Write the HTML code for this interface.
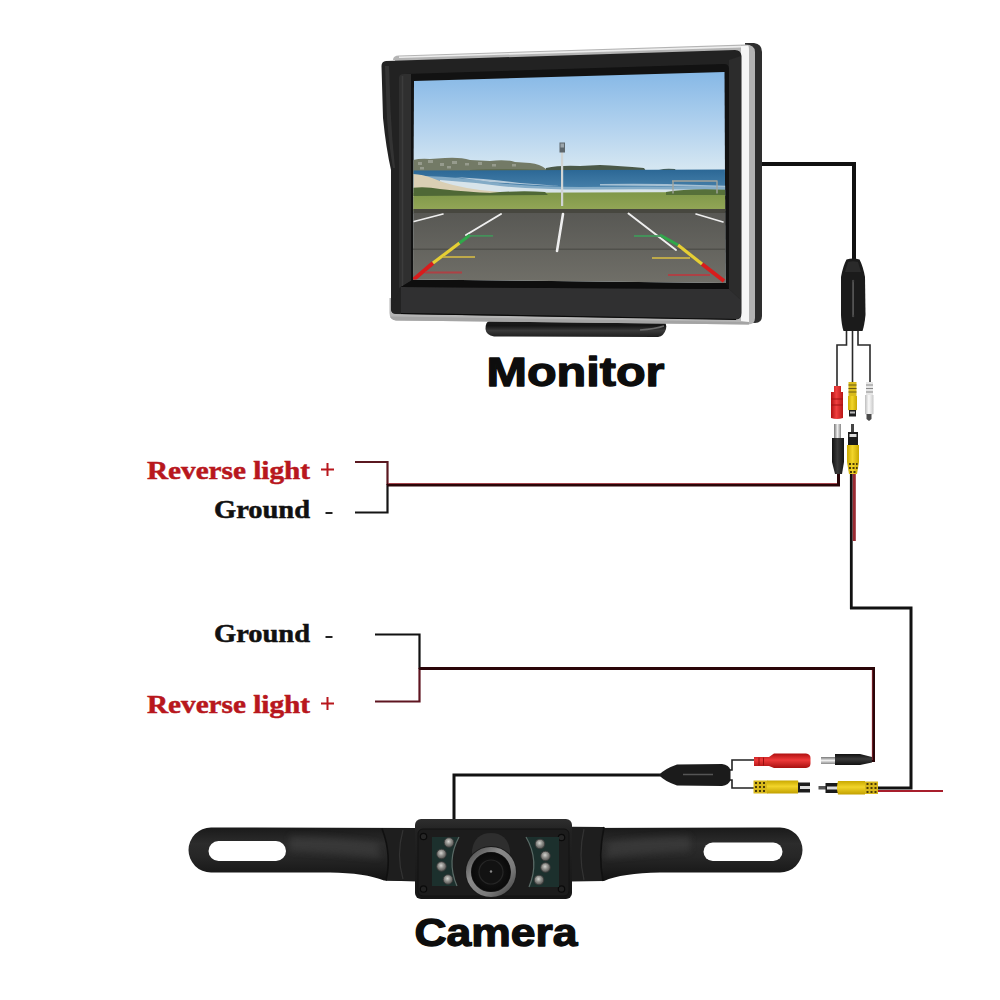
<!DOCTYPE html>
<html><head><meta charset="utf-8"><style>
html,body{margin:0;padding:0;background:#fff;width:1000px;height:1000px;overflow:hidden}
svg{display:block}
</style></head><body>
<svg width="1000" height="1000" viewBox="0 0 1000 1000">
<rect width="1000" height="1000" fill="#fff"/>


<!-- ============ MONITOR ============ -->
<defs>
  <linearGradient id="sky" gradientUnits="userSpaceOnUse" x1="0" y1="72" x2="0" y2="172">
    <stop offset="0" stop-color="#86b8e6"/>
    <stop offset="0.55" stop-color="#b2d2ee"/>
    <stop offset="1" stop-color="#d8e8f2"/>
  </linearGradient>
  <linearGradient id="sea" gradientUnits="userSpaceOnUse" x1="0" y1="170" x2="0" y2="195">
    <stop offset="0" stop-color="#2c6896"/>
    <stop offset="1" stop-color="#4f88b0"/>
  </linearGradient>
  <linearGradient id="asph" gradientUnits="userSpaceOnUse" x1="0" y1="213" x2="0" y2="283">
    <stop offset="0" stop-color="#585854"/>
    <stop offset="1" stop-color="#706f68"/>
  </linearGradient>
  <linearGradient id="grass" gradientUnits="userSpaceOnUse" x1="0" y1="193" x2="0" y2="210">
    <stop offset="0" stop-color="#80984a"/>
    <stop offset="1" stop-color="#92a656"/>
  </linearGradient>
  <linearGradient id="stand" x1="0" y1="0" x2="0" y2="1">
    <stop offset="0" stop-color="#1a1a1a"/>
    <stop offset="0.3" stop-color="#161616"/>
    <stop offset="0.6" stop-color="#3a3a3a"/>
    <stop offset="1" stop-color="#1e1e1e"/>
  </linearGradient>
  <clipPath id="scr"><path d="M414 81 L724.5 72 L725.5 283 L413 279.5 Z"/></clipPath>
</defs>
<g id="monitor">
  <!-- stand -->
  <path d="M489 321 L664 321 Q667 323 666 329 Q664 336 658 337 L494 336.5 Q486 335 485.5 329 Q485.5 322 489 321 Z" fill="url(#stand)"/>
  <path d="M640 330 Q655 329 664 326" stroke="#6a6a6a" stroke-width="1.5" fill="none"/>
  <!-- back housing (right & bottom) -->
  <path d="M745 43 L754 43 Q762 44 762 52 L762 316 Q762 323 755 323 L745 322 Z" fill="#2e2e2e"/>
  <!-- silver trim -->
  <path d="M393 60 Q393 55.5 399 55.5 L744 44.5 Q755 44 755 52 L755 318 Q755 324.5 748 324.5 L396 320.5 Q389.5 320 389.5 313 L389.5 298 L395 298 L395 60 Z" fill="#b4b4b4"/>
  <path d="M741 46 L748 45.5 Q749 46 749 50 L749 322 L741 321 Z" fill="#f6f6f6"/>
  <path d="M392 316.5 L745 322 L749 322 L749 324.5 L396 320.5 Q391 319.5 390 316.5 Z" fill="#a4a4a4"/>
  <path d="M399 56.5 L741 45.8 L741 47.5 L399 58 Z" fill="#ededed"/>
  <!-- front bezel -->
  <path d="M386 61 Q381.5 61.5 381.5 66 L383 118 Q386 148 391 170 L391 309 Q391 314 396 314 L736 319.5 Q741.5 319.5 741.5 313 L741.5 56 Q741 50 735 50 Z" fill="#222"/>
  <!-- visor highlight at left -->
  <path d="M385 66 L387 118 Q389 146 393 168 L395 168 Q392 140 390.5 110 L389 66 Z" fill="#383838" opacity="0.8"/>
  <!-- inner recess -->
  <path d="M401 78 Q401 74 406 74 L724 64 Q729 64 729 69 L729 289 L401 287 Z" fill="#121212"/>
  <path d="M401 287 L729 289 L741 300 L741 313 Q741 319 736 319 L401 313 Z" fill="#303031"/>
  <path d="M391 309 L401 287 L401 313 L396 313.5 Q391 313 391 309 Z" fill="#222"/>
  <path d="M399 78 Q399 74 404 74 L411 74 L411 284 L413 280 L399 288 Z" fill="#2f2f2f"/>
  <path d="M402.5 76 V286" stroke="#3c3c3c" stroke-width="1.5"/>
  <path d="M729 60 L741 56 L741 300 L729 289 Z" fill="#2c2c2c"/>
  <path d="M401 287 L413 279.5 L725.5 283 L729 289 Z" fill="#0e0e0e"/>
  <path d="M401 313.5 L736 319.5" stroke="#0a0a0a" stroke-width="1.2"/>
  <!-- screen -->
  <g clip-path="url(#scr)">
    <rect x="410" y="65" width="320" height="225" fill="url(#sky)"/>
    <!-- headland with houses -->
    <path d="M410 161 Q418 158 430 159 L445 158 Q460 157 470 160 L490 161 Q505 159 515 162 L530 163 Q540 164 546 169 L548 175 L410 176 Z" fill="#737a66"/>
    <g fill="#b9bcb4" opacity="0.5">
      <rect x="418" y="162" width="4" height="3"/><rect x="428" y="160" width="5" height="3"/>
      <rect x="440" y="163" width="4" height="3"/><rect x="452" y="161" width="5" height="3"/>
      <rect x="465" y="163" width="4" height="2.5"/><rect x="478" y="162" width="4" height="3"/>
      <rect x="420" y="167" width="4" height="2.5"/><rect x="447" y="166" width="4" height="2.5"/>
      <rect x="492" y="164" width="4" height="2.5"/><rect x="512" y="164" width="4" height="2.5"/>
    </g>
    <path d="M470 170 Q500 168 546 170 L546 175 L470 175 Z" fill="#5f6a4e"/>
    <!-- far trees -->
    <path d="M546 168 Q560 165 580 166 L600 165 Q620 166 644 168 L646 171 L546 171 Z" fill="#4a5848"/>
    <path d="M659 170 Q665 168 675 169 L676 171 L659 171 Z" fill="#4a5848"/>
    <!-- sea -->
    <path d="M410 170.5 L730 169.5 L730 196 L410 196 Z" fill="url(#sea)"/>
    <!-- surf -->
    <path d="M425 176 Q460 177 490 182 Q530 187 580 187 Q640 186 730 187 L730 196 L425 196 Z" fill="#8fb4cc" opacity="0.85"/>
    <path d="M440 180 Q470 182 500 186 Q540 190 600 189.5 Q660 189 730 190 L730 196 L440 196 Z" fill="#dfe8ed" opacity="0.92"/>
    <path d="M455 177 Q490 179 520 183 L560 186 Q520 184 490 182 Z" fill="#e8eef2" opacity="0.7"/>
    <path d="M600 184 Q650 183 700 185 L730 186 L730 187 Q660 186 600 185.5 Z" fill="#e8eef2" opacity="0.6"/>
    <!-- sand -->
    <path d="M410 174 Q422 174 432 178 Q450 186 480 190 L520 194 L410 197 Z" fill="#dacfb4"/>
    <!-- grass -->
    <path d="M410 193 L730 192 L730 211 L410 211 Z" fill="url(#grass)"/>
    <!-- bushes -->
    <path d="M410 188 Q425 186 440 189 Q470 192 490 193 Q520 190 545 192 L548 195 L410 196 Z" fill="#4f6836"/>
    <path d="M666 192 Q690 188 730 190 L730 195 L666 195 Z" fill="#56703a"/>
    <!-- fence -->
    <path d="M672 181 L717.5 181 M673 181 V193.5 M717 181 V193.5" stroke="#a2a49c" stroke-width="1.4" fill="none"/>
    <!-- pole -->
    <rect x="561" y="148" width="2.2" height="58" fill="#d0d4d4"/>
    <rect x="559.5" y="142.5" width="5.5" height="10" fill="#5c666c"/>
    <rect x="560.5" y="143.5" width="3.5" height="4" fill="#9aa4aa"/>
    <!-- curb -->
    <rect x="410" y="209" width="320" height="4.5" fill="#47473f"/>
    <!-- asphalt -->
    <rect x="410" y="213" width="320" height="80" fill="url(#asph)"/>
    <rect x="410" y="248.5" width="320" height="1.5" fill="#4b4b46" opacity="0.8"/>
    <!-- parking lines -->
    <g stroke="#eeeeee" fill="none" stroke-linecap="round">
      <path d="M414 221.5 L443 214" stroke-width="1.6"/>
      <path d="M501 214 L466 235" stroke-width="2"/>
      <path d="M563 214 Q560 232 557 251" stroke-width="2.6"/>
      <path d="M628.5 213.5 L676 250" stroke-width="2"/>
      <path d="M696 214 L723 222" stroke-width="1.6"/>
    </g>
    <!-- guide lines -->
    <g fill="none" stroke-linecap="butt">
      <path d="M413 280 L433 263" stroke="#d81c1c" stroke-width="4"/>
      <path d="M433 263 L459.5 243" stroke="#e6cf34" stroke-width="3.2"/>
      <path d="M459.5 243 L470 235" stroke="#2fa84a" stroke-width="3"/>
      <path d="M469 235.8 H493" stroke="#3f9a5a" stroke-width="1.8" opacity="0.85"/>
      <path d="M443 257 H475" stroke="#c8b048" stroke-width="1.8" opacity="0.9"/>
      <path d="M425 272.5 H462" stroke="#b83a40" stroke-width="2.2" opacity="0.85"/>
      <path d="M724 281 L702 264" stroke="#d81c1c" stroke-width="4"/>
      <path d="M702 264 L678 245" stroke="#e6cf34" stroke-width="3.2"/>
      <path d="M678 245 L660 235" stroke="#2fa84a" stroke-width="3"/>
      <path d="M634 236 H662" stroke="#3f9a5a" stroke-width="1.8" opacity="0.85"/>
      <path d="M652 258 H690" stroke="#c8b048" stroke-width="1.8" opacity="0.9"/>
      <path d="M668 275 H710" stroke="#b83a40" stroke-width="2.2" opacity="0.85"/>
    </g>
  </g>
</g>

<!-- ============ WIRES ============ -->
<g fill="none" stroke-linejoin="miter" stroke-linecap="butt">
  <!-- monitor cable -->
  <path d="M762 164 H854 V262" stroke="#111" stroke-width="4"/>
  <!-- top bracket -->
  <path d="M387.5 484 V512.5 H355" stroke="#151515" stroke-width="2.2"/>
  <path d="M355 462 H387.5 V485" stroke="#5a1820" stroke-width="2.2"/>
  <!-- top middle line -->
  <path d="M387 485 H838.5 V472" stroke="#2a0508" stroke-width="3"/>
  <path d="M388 483.5 H837" stroke="#a8343e" stroke-width="1" opacity="0.8"/>
  <!-- yellow male wire: black+red -->
  <path d="M851.3 472 V609" stroke="#111" stroke-width="2.8"/>
  <path d="M854.3 472 V541" stroke="#9a2a32" stroke-width="3"/>
  <path d="M850 608 H911 V788 H876" stroke="#111" stroke-width="3"/>
  <!-- lower bracket -->
  <path d="M375 634.5 H419.5 V669" stroke="#111" stroke-width="2.2"/>
  <path d="M419.5 668 V701.5 H375" stroke="#5e1520" stroke-width="2.2"/>
  <!-- lower middle line -->
  <path d="M419 668.5 H873.5 V762" stroke="#2a0508" stroke-width="3"/>
  <path d="M872.3 670 V760" stroke="#a8343e" stroke-width="1" opacity="0.7"/>
  <!-- red tail -->
  <path d="M877 791 H943" stroke="#a81e2c" stroke-width="2.2"/>
  <!-- camera cable -->
  <path d="M454 820 V775 H662" stroke="#111" stroke-width="3"/>
</g>

<!-- ============ CAMERA ============ -->
<defs>
  <linearGradient id="brk" x1="0" y1="0" x2="0" y2="1">
    <stop offset="0" stop-color="#1a1a1a"/>
    <stop offset="0.3" stop-color="#2c2c2c"/>
    <stop offset="0.55" stop-color="#262626"/>
    <stop offset="1" stop-color="#121212"/>
  </linearGradient>
  <linearGradient id="body" x1="0" y1="0" x2="0" y2="1">
    <stop offset="0" stop-color="#2e2e2e"/>
    <stop offset="0.15" stop-color="#222"/>
    <stop offset="1" stop-color="#161616"/>
  </linearGradient>
  <radialGradient id="led" cx="0.45" cy="0.4" r="0.65">
    <stop offset="0" stop-color="#d4d4d0"/>
    <stop offset="0.45" stop-color="#8e8e8a"/>
    <stop offset="1" stop-color="#484846"/>
  </radialGradient>
  <linearGradient id="ring" x1="0" y1="0" x2="1" y2="1">
    <stop offset="0" stop-color="#4a4a4a"/>
    <stop offset="0.35" stop-color="#8a8a8a"/>
    <stop offset="0.7" stop-color="#7a7a7a"/>
    <stop offset="1" stop-color="#444"/>
  </linearGradient>
  <radialGradient id="lens" cx="0.5" cy="0.5" r="0.5">
    <stop offset="0" stop-color="#2a2a2a"/>
    <stop offset="0.6" stop-color="#111"/>
    <stop offset="1" stop-color="#0a0a0a"/>
  </radialGradient>
</defs>
<defs><filter id="blur3" x="-20%" y="-50%" width="140%" height="200%"><feGaussianBlur stdDeviation="3"/></filter></defs>
<g id="camera">
  <!-- left bracket -->
  <path d="M418 828 L211 827.5 A22.5 22.5 0 0 0 211 872.5 L330 872.5 Q365 873 384 880.5 L418 881.5 Z" fill="url(#brk)"/>
  <path d="M382 828.5 L416 828.5 L416 881 L386 880.5 Q392 855 382 828.5 Z" fill="#1e1e1e"/>
  <path d="M382 828.5 Q392 855 386 880.5" stroke="#101010" stroke-width="1.6" fill="none"/>
  <path d="M403 830 Q396 855 403 879" stroke="#333" stroke-width="1.2" fill="none"/>
  <path d="M290 836 Q340 837 378 843 L380 858 Q340 854 290 851 Z" fill="#444" opacity="0.5" filter="url(#blur3)"/>
  <rect x="208.5" y="841" width="77.5" height="20" rx="10" fill="#fff"/>
  <!-- right bracket -->
  <path d="M569 828 L780 827.5 A22.5 22.5 0 0 1 780 872.5 L660 872.5 Q622 873 604 881 L569 881.5 Z" fill="url(#brk)"/>
  <path d="M572 826.8 L604 827 Q598 856 603 881 L572 881 Z" fill="#1e1e1e"/>
  <path d="M604 827 Q598 856 603 881" stroke="#101010" stroke-width="1.6" fill="none"/>
  <path d="M584 829 Q578 855 584 880" stroke="#333" stroke-width="1.2" fill="none"/>
  <path d="M608 843 Q640 837 690 836 L690 851 Q640 854 606 858 Z" fill="#444" opacity="0.5" filter="url(#blur3)"/>
  <rect x="703.5" y="842.5" width="79" height="18.5" rx="9.25" fill="#fff"/>
  <!-- body -->
  <rect x="415" y="819" width="157" height="80" rx="6" fill="url(#body)"/>
  <rect x="418" y="829" width="151" height="67" rx="5" fill="#1c1c1c" stroke="#121212" stroke-width="1"/>
  <!-- screws -->
  <circle cx="423.5" cy="836.5" r="3.2" fill="#262626" stroke="#0a0a0a" stroke-width="1.2"/>
  <circle cx="561.5" cy="837.5" r="3.2" fill="#262626" stroke="#0a0a0a" stroke-width="1.2"/>
  <circle cx="423.5" cy="889" r="3.2" fill="#222" stroke="#0a0a0a" stroke-width="1.2"/>
  <circle cx="561.5" cy="889" r="3.2" fill="#222" stroke="#0a0a0a" stroke-width="1.2"/>
  <!-- LED panels -->
  <path d="M432 837 L459 837 Q446 861 457 886 L432 886 Z" fill="#1c302d"/>
  <path d="M459 837 Q446 861 457 886" stroke="#5a6a66" stroke-width="1.2" fill="none"/>
  <path d="M559 837 L526 837 Q540 861 529 887 L559 887 Z" fill="#1c302d"/>
  <path d="M526 837 Q540 861 529 887" stroke="#5a6a66" stroke-width="1.2" fill="none"/>
  <!-- lens hood -->
  <path d="M472 872 L472 850 Q475 833 491 833 Q507 833 510 850 L510 872 Z" fill="#2e2e2e"/>
  <!-- lens -->
  <circle cx="491" cy="872" r="26" fill="#1a1a1a"/>
  <circle cx="491" cy="872" r="22.5" fill="none" stroke="url(#ring)" stroke-width="5"/>
  <circle cx="491" cy="872" r="19.5" fill="url(#lens)"/>
  <circle cx="491" cy="872" r="12" fill="#121212" stroke="#262626" stroke-width="1.2"/>
  <circle cx="491" cy="871.5" r="1.2" fill="#888"/>
  <!-- LEDs -->
  <g fill="url(#led)" stroke="#3a3a3a" stroke-width="0.8">
    <circle cx="449" cy="842.5" r="4.8"/>
    <circle cx="441.5" cy="854" r="4.8"/>
    <circle cx="441.5" cy="866.5" r="4.8"/>
    <circle cx="448" cy="879.5" r="4.8"/>
    <circle cx="540" cy="844" r="4.8"/>
    <circle cx="545.5" cy="856" r="4.8"/>
    <circle cx="545.5" cy="867.5" r="4.8"/>
    <circle cx="539" cy="880" r="4.8"/>
  </g>
</g>


<!-- ============ CONNECTORS ============ -->
<defs>
  <linearGradient id="redV" x1="0" y1="0" x2="1" y2="0">
    <stop offset="0" stop-color="#b01010"/>
    <stop offset="0.45" stop-color="#f04040"/>
    <stop offset="1" stop-color="#b81515"/>
  </linearGradient>
  <linearGradient id="yelV" x1="0" y1="0" x2="1" y2="0">
    <stop offset="0" stop-color="#c9a800"/>
    <stop offset="0.45" stop-color="#f2d52a"/>
    <stop offset="1" stop-color="#c9a800"/>
  </linearGradient>
  <linearGradient id="whiV" x1="0" y1="0" x2="1" y2="0">
    <stop offset="0" stop-color="#bdbdbd"/>
    <stop offset="0.45" stop-color="#fafafa"/>
    <stop offset="1" stop-color="#c8c8c8"/>
  </linearGradient>
  <linearGradient id="blkV" x1="0" y1="0" x2="1" y2="0">
    <stop offset="0" stop-color="#111"/>
    <stop offset="0.45" stop-color="#3a3a3a"/>
    <stop offset="1" stop-color="#151515"/>
  </linearGradient>
  <linearGradient id="metV" x1="0" y1="0" x2="1" y2="0">
    <stop offset="0" stop-color="#777"/>
    <stop offset="0.5" stop-color="#eee"/>
    <stop offset="1" stop-color="#888"/>
  </linearGradient>
  <linearGradient id="redH" x1="0" y1="0" x2="0" y2="1">
    <stop offset="0" stop-color="#b01010"/>
    <stop offset="0.45" stop-color="#ee3a3a"/>
    <stop offset="1" stop-color="#a81010"/>
  </linearGradient>
  <linearGradient id="yelH" x1="0" y1="0" x2="0" y2="1">
    <stop offset="0" stop-color="#c9a800"/>
    <stop offset="0.45" stop-color="#f2d52a"/>
    <stop offset="1" stop-color="#c2a000"/>
  </linearGradient>
  <linearGradient id="blkH" x1="0" y1="0" x2="0" y2="1">
    <stop offset="0" stop-color="#111"/>
    <stop offset="0.45" stop-color="#3a3a3a"/>
    <stop offset="1" stop-color="#111"/>
  </linearGradient>
  <linearGradient id="metH" x1="0" y1="0" x2="0" y2="1">
    <stop offset="0" stop-color="#777"/>
    <stop offset="0.5" stop-color="#eee"/>
    <stop offset="1" stop-color="#888"/>
  </linearGradient>
</defs>
<g id="upper-conn">
  <!-- splitter wires -->
  <g stroke="#2a2a2a" stroke-width="1.6" fill="none">
    <path d="M846.5 328 V345 H837 V388"/>
    <path d="M852.5 328 V384"/>
    <path d="M858 328 V345 H870 V386"/>
  </g>
  <!-- module -->
  <path d="M846.5 259.5 Q853 257.5 859.5 259.5 Q863 266 865 277 L865.5 315 Q864.5 325 862.5 331 L843.5 331 Q841.5 325 841 315 L841 277 Q843 266 846.5 259.5 Z" fill="#1b1b1b"/>
  <path d="M848 262 Q853 260.5 858 262 L861 272 L845 272 Z" fill="#2a2a2a"/>
  <rect x="852.3" y="281" width="1.6" height="35" fill="#5a5a5a"/>
  <circle cx="853.1" cy="281" r="1.2" fill="#444"/><circle cx="853.1" cy="316" r="1.2" fill="#444"/>
  <!-- red female -->
  <path d="M834 386 H841 V392 H843 V418 Q837 420 831 418 V392 H834 Z" fill="url(#redV)"/>
  <path d="M831 399 H843 M831 405 H843" stroke="#a01010" stroke-width="1"/>
  <!-- yellow female -->
  <path d="M848.5 382 H856.5 V396 H848.5 Z" fill="#d9bb1c"/>
  <path d="M848.5 385 H856.5 M848.5 388.5 H856.5 M848.5 392 H856.5" stroke="#6a5a12" stroke-width="1"/>
  <path d="M848 396 H857 V410 Q852.5 412 848 410 Z" fill="url(#yelV)"/>
  <rect x="849" y="410" width="7" height="6.5" fill="#1e1e1e"/>
  <rect x="850" y="411.5" width="5" height="2" fill="#bbb"/>
  <!-- white female -->
  <path d="M866 382 H873 V395 H866 Z" fill="#e6e6e6"/>
  <path d="M866 385 H873 M866 388.5 H873 M866 392 H873" stroke="#8a8a8a" stroke-width="1"/>
  <path d="M865 395 H873.5 V414 Q869 416 865 414 Z" fill="url(#whiV)"/>
  <path d="M866.5 414 H871.5 V419 L869 421 L866.5 419 Z" fill="#4a4a4a"/>
  <!-- DC male -->
  <rect x="834" y="424" width="7" height="14" fill="url(#metV)"/>
  <path d="M832 438 H844 V462 L842 474 H835 L832 462 Z" fill="url(#blkV)"/>
  <!-- yellow male -->
  <rect x="851" y="424" width="3" height="9" fill="#444"/>
  <rect x="848" y="432" width="10" height="13" fill="#1a1a1a"/>
  <rect x="849.5" y="434" width="7" height="3" fill="#ddd"/>
  <path d="M847 445 H859 V462 L857 474 H849 L847 462 Z" fill="url(#yelV)"/>
  <g fill="#4a3a08">
    <rect x="849" y="463" width="2" height="2"/><rect x="852.5" y="463" width="2" height="2"/><rect x="856" y="463" width="1.6" height="2"/>
    <rect x="849" y="467" width="2" height="2"/><rect x="852.5" y="467" width="2" height="2"/><rect x="856" y="467" width="1.6" height="2"/>
    <rect x="850" y="471" width="2" height="2"/><rect x="853.5" y="471" width="2" height="2"/>
  </g>
</g>
<g id="lower-conn">
  <g stroke="#222" stroke-width="1.6" fill="none">
    <path d="M728 770 H732 V760 H755"/>
    <path d="M728 780 H732 V788 H755"/>
  </g>
  <!-- module -->
  <path d="M659 775 Q664 769 677 764.5 L722 764 Q729 765 730.5 770 L730.5 780 Q729 785 722 786 L677 785.5 Q664 781 659 775 Z" fill="#1b1b1b"/>
  <path d="M683 774.5 H713" stroke="#555" stroke-width="1.5"/>
  <!-- red female -->
  <path d="M754 757 H769 L774 753.5 H806 Q810.5 754 810.5 758 V763.5 Q810.5 767.5 806 768 H774 L769 766 H754 Z" fill="url(#redH)"/>
  <path d="M759 757.5 V765.5 M763.5 757.5 V765.5" stroke="#9a1010" stroke-width="1"/>
  <!-- yellow female -->
  <rect x="753.5" y="780.5" width="14" height="13" fill="#d8b81c"/>
  <g fill="#4a3a08">
    <rect x="755" y="782" width="2" height="2"/><rect x="755" y="786" width="2" height="2"/><rect x="755" y="790" width="2" height="2"/>
    <rect x="759" y="782" width="2" height="2"/><rect x="759" y="786" width="2" height="2"/><rect x="759" y="790" width="2" height="2"/>
    <rect x="763" y="782" width="2" height="2"/><rect x="763" y="786" width="2" height="2"/><rect x="763" y="790" width="2" height="2"/>
  </g>
  <path d="M767 780.5 H798 Q800 787 798 793.5 H767 Z" fill="url(#yelH)"/>
  <rect x="798" y="782.5" width="12" height="10" fill="#1c1c1c"/>
  <rect x="800" y="786" width="10" height="3" fill="#ddd"/>
  <!-- DC male -->
  <rect x="821" y="757" width="14" height="7" fill="url(#metH)"/>
  <path d="M835 754 H860 L872 757 V762.5 L860 765 H835 Z" fill="url(#blkH)"/>
  <!-- yellow male -->
  <rect x="818.5" y="786" width="8" height="3.5" fill="#555"/>
  <rect x="825.5" y="783" width="12.5" height="10" fill="#1a1a1a"/>
  <rect x="827" y="786.5" width="11" height="3" fill="#ddd"/>
  <path d="M838 781 H865 V794.5 H838 Q836 787.5 838 781 Z" fill="url(#yelH)"/>
  <rect x="865" y="781.5" width="13" height="12.5" fill="#d8b81c"/>
  <g fill="#4a3a08">
    <rect x="866.5" y="783" width="2" height="2"/><rect x="866.5" y="787" width="2" height="2"/><rect x="866.5" y="791" width="2" height="2"/>
    <rect x="870.5" y="783" width="2" height="2"/><rect x="870.5" y="787" width="2" height="2"/><rect x="870.5" y="791" width="2" height="2"/>
    <rect x="874.5" y="783" width="2" height="2"/><rect x="874.5" y="787" width="2" height="2"/><rect x="874.5" y="791" width="2" height="2"/>
  </g>
</g>

<!-- ============ TEXT ============ -->
<g font-family="Liberation Serif, serif" font-weight="bold">
  <g fill="#b8171d" stroke="#b8171d" stroke-width="0.5">
  <text x="147" y="478.5" font-size="24.5" textLength="163" lengthAdjust="spacingAndGlyphs">Reverse light</text>
  <text x="147" y="712.5" font-size="24.5" textLength="163" lengthAdjust="spacingAndGlyphs">Reverse light</text>
  </g>
  <g fill="#b8171d">
  <path d="M321 469.5 H334 M327.5 463 V476" stroke="#b8171d" stroke-width="2" />
  <path d="M321 703.5 H334 M327.5 697 V710" stroke="#b8171d" stroke-width="2" />
  </g>
  <g fill="#111" stroke="#111" stroke-width="0.5">
  <text x="214" y="518" font-size="24.5" textLength="96" lengthAdjust="spacingAndGlyphs">Ground</text>
  <text x="214" y="642" font-size="24.5" textLength="96" lengthAdjust="spacingAndGlyphs">Ground</text>
  </g>
  <path d="M325.5 513 H332.5 M325.5 637 H332.5" stroke="#222" stroke-width="2"/>
</g>
<g font-family="Liberation Sans, sans-serif" font-weight="bold" fill="#0d0d0d" stroke="#0d0d0d" stroke-width="1.3" stroke-linejoin="round">
  <text x="486.5" y="386" font-size="40.5" textLength="178" lengthAdjust="spacingAndGlyphs">Monitor</text>
  <text x="414.5" y="946" font-size="39.5" textLength="163" lengthAdjust="spacingAndGlyphs">Camera</text>
</g>

</svg>
</body></html>
